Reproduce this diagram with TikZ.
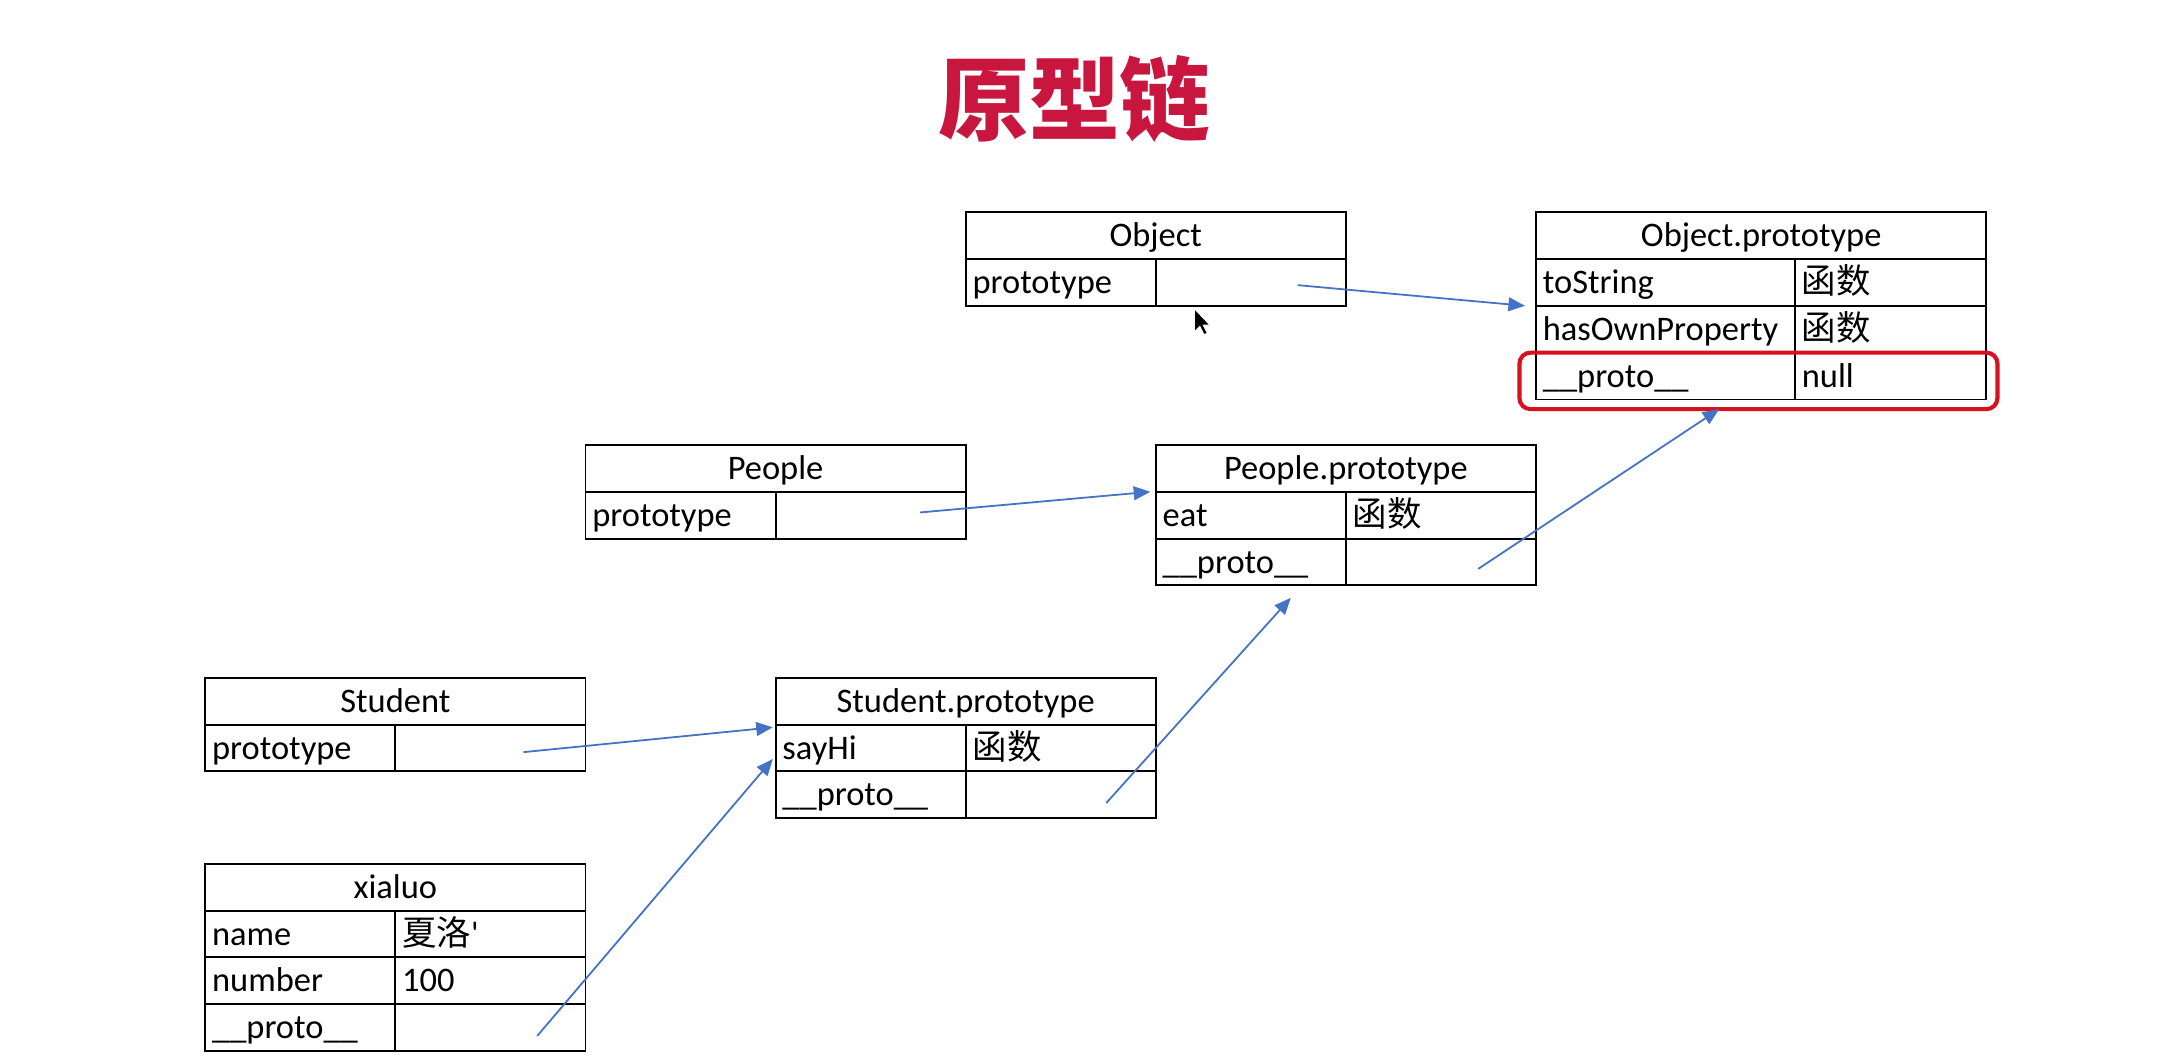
\documentclass[tikz,border=0pt]{standalone}
\usepackage{fontspec}
\setmainfont{Carlito}
\newfontfamily\rawfont[Ligatures=TeXOff]{Carlito}
\newfontfamily\cjk{Noto Sans CJK SC}
\usetikzlibrary{arrows.meta}
\definecolor{titlered}{RGB}{200,22,62}
\definecolor{hlred}{RGB}{214,18,30}
\definecolor{arrblue}{RGB}{68,114,196}
\begin{document}
\begin{tikzpicture}[x=0.5pt,y=-0.5pt,
  lat/.style={font=\fontsize{12.5}{15}\selectfont},
  hd/.style={draw, line width=0.7pt, anchor=north west, minimum width=#1, minimum height=17pt,
     inner sep=0pt, outer sep=0pt, text height=9.5pt, text depth=1.5pt, lat},
  cell/.style={draw, line width=0.7pt, anchor=north west, text width=#1, align=left, minimum height=17pt,
     inner xsep=2.5pt, inner ysep=0pt, outer sep=0pt, text height=9.5pt, text depth=1.5pt, lat},
  link/.style={draw=arrblue, line width=0.65pt, -{Triangle[length=6pt,width=5pt]}},
  cursorshape/.style={fill=black, draw=white, line width=0.4pt}
]
\useasboundingbox[fill=white] (0,0) rectangle (1568,768.7);

% title
\node[text=titlered, font=\cjk\bfseries\fontsize{33}{36}\selectfont, inner sep=0pt] (title) at (780,72) {原型链};

% Object
\node[hd=138pt] (objH) at (701,154) {Object};
\node[cell=64pt] (objK) at (objH.south west) {prototype};
\node[cell=64pt] (objV) at (objK.north east) {};

% Object.prototype
\node[hd=163.5pt] (opH) at (1115,154) {Object.prototype};
\node[cell=89pt] (opK1) at (opH.south west) {toString};
\node[cell=64.5pt] (opV1) at (opK1.north east) {\cjk 函数};
\node[cell=89pt] (opK2) at (opK1.south west) {hasOwnProperty};
\node[cell=64.5pt] (opV2) at (opK2.north east) {\cjk 函数};
\node[cell=89pt] (opK3) at (opK2.south west) {\_\_proto\_\_};
\node[cell=64.5pt] (opV3) at (opK3.north east) {null};
\node[draw=hlred, line width=1.5pt, rounded corners=4pt, minimum width=173.5pt, minimum height=20.5pt, inner sep=0pt, outer sep=0pt] (hl) at (1276.5,276.5) {};

% People
\node[hd=138pt] (pH) at (425,323) {People};
\node[cell=64pt] (pK) at (pH.south west) {prototype};
\node[cell=64pt] (pV) at (pK.north east) {};

% People.prototype
\node[hd=138pt] (ppH) at (839,323) {People.prototype};
\node[cell=64pt] (ppK1) at (ppH.south west) {eat};
\node[cell=64pt] (ppV1) at (ppK1.north east) {\cjk 函数};
\node[cell=64pt] (ppK2) at (ppK1.south west) {\_\_proto\_\_};
\node[cell=64pt] (ppV2) at (ppK2.north east) {};

% Student
\node[hd=138pt] (sH) at (149,492) {Student};
\node[cell=64pt] (sK) at (sH.south west) {prototype};
\node[cell=64pt] (sV) at (sK.north east) {};

% Student.prototype
\node[hd=138pt] (spH) at (563,492) {Student.prototype};
\node[cell=64pt] (spK1) at (spH.south west) {sayHi};
\node[cell=64pt] (spV1) at (spK1.north east) {\cjk 函数};
\node[cell=64pt] (spK2) at (spK1.south west) {\_\_proto\_\_};
\node[cell=64pt] (spV2) at (spK2.north east) {};

% xialuo
\node[hd=138pt] (xH) at (149,627) {xialuo};
\node[cell=64pt] (xK1) at (xH.south west) {name};
\node[cell=64pt] (xV1) at (xK1.north east) {{\cjk 夏洛}{\rawfont '}};
\node[cell=64pt] (xK2) at (xK1.south west) {number};
\node[cell=64pt] (xV2) at (xK2.north east) {100};
\node[cell=64pt] (xK3) at (xK2.south west) {\_\_proto\_\_};
\node[cell=64pt] (xV3) at (xK3.north east) {};

% arrow start points
\coordinate (objS) at (942,207);
\coordinate (pS) at (668,372);
\coordinate (sS) at (380,546);
\coordinate (xS) at (390,752);
\coordinate (spS) at (803,583);
\coordinate (ppS) at (1073,413);

% connectors
\draw[link] (objS) -- ([xshift=-4pt]opK1.south west);
\draw[link] (pS) -- ([xshift=-2pt]ppH.south west);
\draw[link] (sS) -- ([xshift=-1pt,yshift=-1pt]spH.south west);
\draw[link] (xS) -- ([xshift=-1pt,yshift=-4pt]spK1.west);
\draw[link] (spS) -- ([xshift=-20pt,yshift=-4.5pt]ppK2.south east);
\draw[link] (ppS) -- ([xshift=-14.25pt]hl.south);

% mouse cursor
\draw[cursorshape] (867,224) -- (867,241) -- (871,237) -- (874,243) -- (876.5,242) -- (873.5,236) -- (878.5,236) -- cycle;
\end{tikzpicture}
\end{document}
